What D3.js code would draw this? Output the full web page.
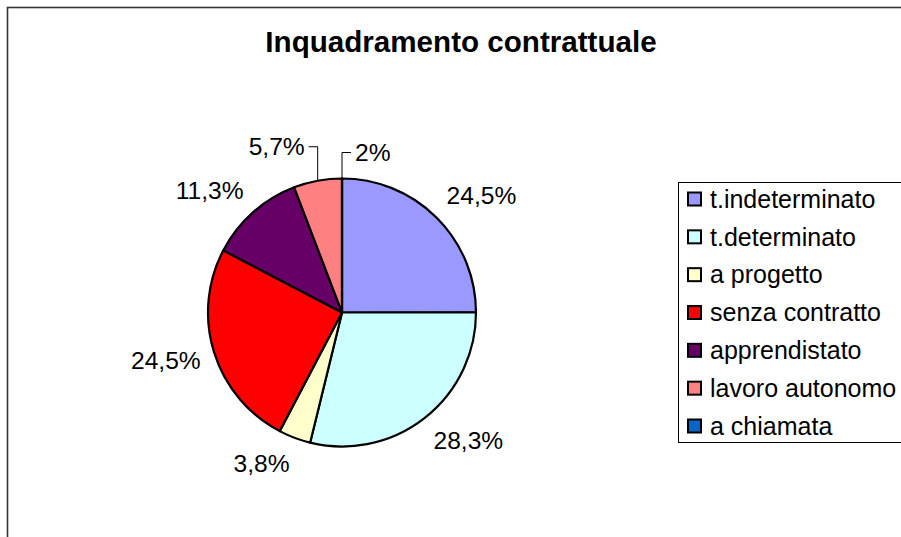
<!DOCTYPE html>
<html>
<head>
<meta charset="utf-8">
<script src="https://cdn.jsdelivr.net/npm/d3@7"></script>
<style>
  html, body { margin: 0; padding: 0; background: #fff; }
  svg { display: block; }
</style>
</head>
<body>
<div id="chart"></div>
<script>
// Inquadramento contrattuale - Excel style pie chart
const categories = ['t.indeterminato', 't.determinato', 'a progetto', 'senza contratto',
  'apprendistato', 'lavoro autonomo', 'a chiamata'];
// slice sizes as drawn (the "a chiamata" slice has no visible width in the picture)
const values = [24.5, 28.3, 3.8, 24.5, 11.3, 5.7, 0];
const valueLabels = ['24,5%', '28,3%', '3,8%', '24,5%', '11,3%', '5,7%', '2%'];
const colors = ['#9999ff', '#ccffff', '#ffffcc', '#ff0000', '#660066', '#ff8080', '#0066cc'];

const W = 901, H = 537;
const font = 'Arial, "Liberation Sans", sans-serif';
const cx = 342, cy = 312.5, radius = 134;

// labels moved by hand in the original, drawn with leader lines
const leaders = {
  5: { rise: 34, side: -1 },
  6: { rise: 26, side: 1 }
};

const svg = d3.select('#chart').append('svg')
  .attr('width', W).attr('height', H);

// chart area border
svg.append('rect')
  .attr('x', 7.5).attr('y', 7.5)
  .attr('width', W + 20).attr('height', H + 20)
  .attr('fill', '#fff')
  .attr('stroke', '#333')
  .attr('stroke-width', 1.6);

svg.append('text')
  .attr('x', 461).attr('y', 52)
  .attr('text-anchor', 'middle')
  .attr('font-family', font)
  .attr('font-weight', 'bold')
  .attr('font-size', '29.6px')
  .attr('fill', '#000')
  .text('Inquadramento contrattuale');

const pie = d3.pie().sort(null).value(d => d);
const arcs = pie(values);
const arc = d3.arc().innerRadius(0).outerRadius(radius);

const g = svg.append('g').attr('transform', `translate(${cx},${cy})`);

g.selectAll('path.slice')
  .data(arcs)
  .join('path')
  .attr('class', 'slice')
  .attr('d', arc)
  .attr('fill', (d, i) => colors[i])
  .attr('stroke', '#000')
  .attr('stroke-width', 2.2)
  .attr('stroke-linejoin', 'round');

// data labels
const labelR = radius + 14;
const lh = 24;
arcs.forEach((d, i) => {
  const mid = (d.startAngle + d.endAngle) / 2;
  const ux = Math.sin(mid), uy = -Math.cos(mid);
  const text = g.append('text')
    .attr('font-family', font)
    .attr('font-size', '24.6px')
    .attr('fill', '#000')
    .attr('dy', '0.35em')
    .text(valueLabels[i]);

  if (leaders[i]) {
    const L = leaders[i];
    const px = radius * ux, py = radius * uy;
    const ey = py - L.rise;
    const hx = px + L.side * 9;
    g.append('path')
      .attr('d', `M${px},${py}L${px},${ey}L${hx},${ey}`)
      .attr('fill', 'none')
      .attr('stroke', '#000')
      .attr('stroke-width', 1);
    text.attr('x', hx + L.side * 4).attr('y', ey)
      .attr('text-anchor', L.side > 0 ? 'start' : 'end');
    return;
  }

  const px = labelR * ux, py = labelR * uy;
  const m = Math.max(Math.abs(ux), Math.abs(uy));
  text.attr('x', px)
    .attr('y', py + (uy / m) * lh / 2)
    .attr('text-anchor', ux >= 0 ? 'start' : 'end');
});

// legend
const legend = svg.append('g');
legend.append('rect')
  .attr('x', 678.5).attr('y', 182.5)
  .attr('width', 240).attr('height', 260)
  .attr('fill', '#fff')
  .attr('stroke', '#000')
  .attr('stroke-width', 1);

const rowY = d3.scalePoint().domain(categories).range([199, 426]);

const items = legend.selectAll('g.item')
  .data(categories)
  .join('g')
  .attr('class', 'item')
  .attr('transform', d => `translate(0,${rowY(d)})`);

items.append('rect')
  .attr('x', 688).attr('y', -6.5)
  .attr('width', 13).attr('height', 13)
  .attr('fill', (d, i) => colors[i])
  .attr('stroke', '#000')
  .attr('stroke-width', 2);

items.append('text')
  .attr('x', 710).attr('y', 0)
  .attr('dy', '0.35em')
  .attr('font-family', font)
  .attr('font-size', '25px')
  .attr('fill', '#000')
  .text(d => d);
</script>
</body>
</html>
